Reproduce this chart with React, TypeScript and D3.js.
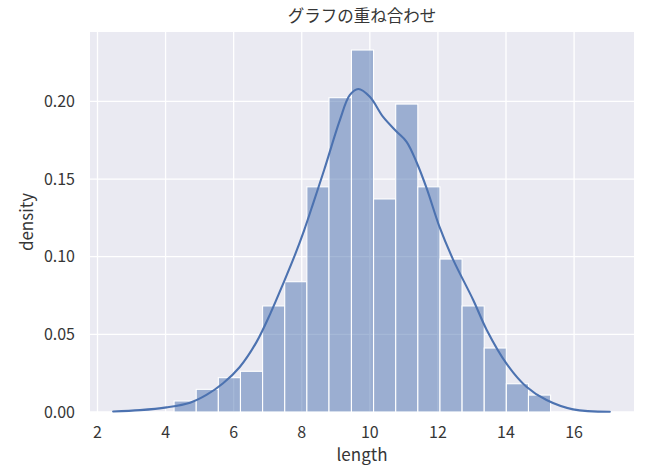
import React, { useRef, useEffect } from "react";
import * as d3 from "d3";

const W = 656;
const H = 472;
const margin = { top: 32, right: 22, bottom: 60, left: 90 };

// histogram bins (left edges + last right edge) and their density
const binEdges = [4.25, 4.9, 5.55, 6.2, 6.85, 7.5, 8.15, 8.8, 9.46, 10.11, 10.76, 11.41, 12.06, 12.71, 13.36, 14.01, 14.66, 15.31];
const binDensity = [0.0071, 0.0146, 0.0221, 0.0262, 0.0683, 0.0839, 0.145, 0.2024, 0.2331, 0.1372, 0.1983, 0.145, 0.0985, 0.0683, 0.0412, 0.0182, 0.0109];

// kde curve
const kdeX = [2.46, 3.25, 4.03, 4.72, 5.2, 5.69, 6.18, 6.67, 7.09, 7.48, 7.78, 8.07, 8.36, 8.66, 9.12, 9.41, 9.66, 10.0, 10.39, 10.79, 11.08, 11.37, 11.67, 12.05, 12.45, 13.04, 13.43, 14.02, 14.6, 15.19, 15.97, 17.05];
const kdeY = [0.0003, 0.0012, 0.003, 0.006, 0.011, 0.0185, 0.029, 0.045, 0.064, 0.084, 0.1, 0.117, 0.136, 0.156, 0.188, 0.204, 0.208, 0.203, 0.19, 0.1805, 0.174, 0.161, 0.144, 0.119, 0.098, 0.072, 0.053, 0.031, 0.0163, 0.0077, 0.0017, 0.0002];

const xTicks = [2, 4, 6, 8, 10, 12, 14, 16];
const yTicks = [0, 0.05, 0.1, 0.15, 0.2];

const title = "グラフの重ね合わせ";
const xLabel = "length";
const yLabel = "density";

const FONT = "'Noto Sans CJK JP', 'Noto Sans', sans-serif";
const TEXT = "#363636";
const BLUE = "#4C72B0";

const App: React.FC = () => {
  const svgRef = useRef<SVGSVGElement | null>(null);

  useEffect(() => {
    if (!svgRef.current) return;
    const svg = d3.select(svgRef.current);
    svg.selectAll("*").remove();

    const x = d3.scaleLinear().domain([1.78, 17.76]).range([margin.left, W - margin.right]);
    const y = d3.scaleLinear().domain([0, 0.2447]).range([H - margin.bottom, margin.top]);

    // background
    svg.append("rect")
      .attr("x", margin.left)
      .attr("y", margin.top)
      .attr("width", W - margin.left - margin.right)
      .attr("height", H - margin.top - margin.bottom)
      .attr("fill", "#EAEAF2");

    // grid
    const grid = svg.append("g").attr("stroke", "#fff").attr("stroke-width", 1.3);
    grid.selectAll(".gx").data(xTicks).enter().append("line")
      .attr("x1", (d) => x(d)).attr("x2", (d) => x(d))
      .attr("y1", margin.top).attr("y2", H - margin.bottom);
    grid.selectAll(".gy").data(yTicks).enter().append("line")
      .attr("x1", margin.left).attr("x2", W - margin.right)
      .attr("y1", (d) => y(d)).attr("y2", (d) => y(d));

    // bars
    svg.append("g")
      .selectAll("rect")
      .data(binDensity)
      .enter().append("rect")
      .attr("x", (d, i) => x(binEdges[i]))
      .attr("width", (d, i) => x(binEdges[i + 1]) - x(binEdges[i]))
      .attr("y", (d) => y(d))
      .attr("height", (d) => y(0) - y(d))
      .attr("fill", BLUE)
      .attr("fill-opacity", 0.5)
      .attr("stroke", "#fff")
      .attr("stroke-width", 1.1);

    // kde line
    const line = d3.line<number>()
      .x((d, i) => x(kdeX[i]))
      .y((d) => y(d))
      .curve(d3.curveCatmullRom.alpha(0.5));
    svg.append("path")
      .datum(kdeY)
      .attr("d", line)
      .attr("fill", "none")
      .attr("stroke", BLUE)
      .attr("stroke-width", 2.1)
      .attr("stroke-linecap", "round");

    // tick labels
    svg.append("g")
      .selectAll("text")
      .data(xTicks)
      .enter().append("text")
      .attr("x", (d) => x(d))
      .attr("y", 438)
      .attr("text-anchor", "middle")
      .attr("font-family", FONT)
      .attr("font-size", 16)
      .attr("fill", TEXT)
      .text((d) => d3.format("d")(d));

    svg.append("g")
      .selectAll("text")
      .data(yTicks)
      .enter().append("text")
      .attr("x", 75)
      .attr("y", (d) => y(d))
      .attr("dy", "0.35em")
      .attr("text-anchor", "end")
      .attr("font-family", FONT)
      .attr("font-size", 16)
      .attr("fill", TEXT)
      .text((d) => d3.format(".2f")(d));

    // labels
    svg.append("text")
      .attr("x", (margin.left + W - margin.right) / 2)
      .attr("y", 461)
      .attr("text-anchor", "middle")
      .attr("font-family", FONT)
      .attr("font-size", 17)
      .attr("fill", TEXT)
      .text(xLabel);

    svg.append("text")
      .attr("transform", `translate(33,${(margin.top + H - margin.bottom) / 2}) rotate(-90)`)
      .attr("text-anchor", "middle")
      .attr("font-family", FONT)
      .attr("font-size", 17)
      .attr("fill", TEXT)
      .text(yLabel);

    svg.append("text")
      .attr("x", (margin.left + W - margin.right) / 2)
      .attr("y", 22)
      .attr("text-anchor", "middle")
      .attr("font-family", FONT)
      .attr("font-size", 16.5)
      .attr("fill", TEXT)
      .text(title);
  }, []);

  return (
    <svg
      ref={svgRef}
      width={W}
      height={H}
      style={{ position: "absolute", left: 0, top: 0, background: "#fff" }}
    />
  );
};

export default App;
